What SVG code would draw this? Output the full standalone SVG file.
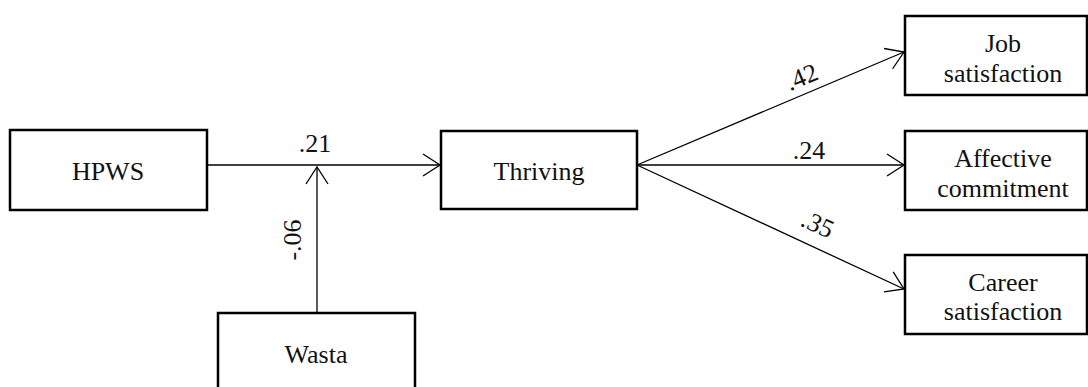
<svg xmlns="http://www.w3.org/2000/svg" width="1088" height="387" viewBox="0 0 1088 387">
<style>
.box{fill:#fff;stroke:#000;stroke-width:2.5}
.t{font-family:"Liberation Serif","Times New Roman",serif;font-size:26px;fill:#111;text-anchor:middle}
.c{fill:none;stroke:#000;stroke-width:1.3}
</style>
<defs>
<marker id="ah" markerUnits="userSpaceOnUse" markerWidth="40" markerHeight="40" viewBox="-20 -20 40 40" refX="0" refY="0" orient="auto">
<path d="M-17,-11 L0,0 L-17,11" fill="none" stroke="#000" stroke-width="1.3"/>
</marker>
</defs>
<rect width="1088" height="387" fill="#fff"/>
<g id="connectors">
<line class="c" x1="207" y1="165" x2="440" y2="165" marker-end="url(#ah)"/>
<line class="c" x1="317" y1="313" x2="317" y2="167" marker-end="url(#ah)"/>
<line class="c" x1="637" y1="165" x2="904" y2="52" marker-end="url(#ah)"/>
<line class="c" x1="637" y1="165" x2="904" y2="165" marker-end="url(#ah)"/>
<line class="c" x1="637" y1="165" x2="904" y2="289" marker-end="url(#ah)"/>
<text class="t" x="315" y="152">.21</text>
<text class="t" transform="translate(301,240) rotate(-90)">-.06</text>
<text class="t" transform="translate(805,85) rotate(-23)">.42</text>
<text class="t" x="809" y="159">.24</text>
<text class="t" transform="translate(814,232) rotate(25)">.35</text>
</g>
<g id="hpws"><rect class="box" x="10" y="130" width="197" height="80"/><text class="t" x="108" y="180">HPWS</text></g>
<g id="thriving"><rect class="box" x="441" y="131" width="196" height="78"/><text class="t" x="539" y="180">Thriving</text></g>
<g id="wasta"><rect class="box" x="218" y="313" width="197" height="80"/><text class="t" x="316" y="363">Wasta</text></g>
<g id="job"><rect class="box" x="905" y="16" width="182" height="79"/><text class="t" x="1003" y="52">Job</text><text class="t" x="1003" y="82">satisfaction</text></g>
<g id="affective"><rect class="box" x="905" y="131" width="182" height="79"/><text class="t" x="1003" y="167">Affective</text><text class="t" x="1003" y="197">commitment</text></g>
<g id="career"><rect class="box" x="905" y="255" width="182" height="79"/><text class="t" x="1003" y="291">Career</text><text class="t" x="1003" y="320">satisfaction</text></g>
</svg>
